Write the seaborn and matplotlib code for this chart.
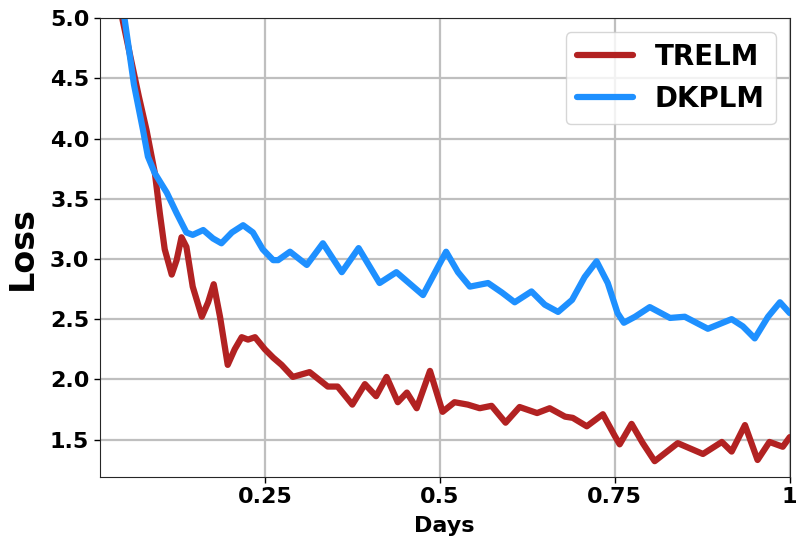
import numpy as np
import pandas as pd
import seaborn as sns
import matplotlib
matplotlib.use("Agg")
from matplotlib import pyplot as plt

# values
trelm_days = [0.020, 0.047, 0.070, 0.081, 0.093, 0.100, 0.107, 0.117, 0.124, 0.131,
              0.138, 0.147, 0.160, 0.169, 0.177, 0.186, 0.197, 0.207, 0.217, 0.226,
              0.236, 0.250, 0.262, 0.274, 0.290, 0.314, 0.340, 0.354, 0.375, 0.393,
              0.409, 0.424, 0.440, 0.453, 0.467, 0.486, 0.504, 0.521, 0.540, 0.557,
              0.574, 0.594, 0.614, 0.639, 0.657, 0.679, 0.690, 0.710, 0.733, 0.750,
              0.757, 0.774, 0.790, 0.807, 0.840, 0.876, 0.903, 0.917, 0.936, 0.954,
              0.971, 0.990, 1.000]
trelm_loss = [5.90, 4.98, 4.35, 4.07, 3.71, 3.38, 3.08, 2.87, 2.99, 3.18,
              3.10, 2.77, 2.52, 2.64, 2.79, 2.52, 2.12, 2.25, 2.35, 2.33,
              2.35, 2.25, 2.18, 2.12, 2.02, 2.06, 1.94, 1.94, 1.79, 1.96,
              1.86, 2.02, 1.81, 1.89, 1.76, 2.07, 1.73, 1.81, 1.79, 1.76,
              1.78, 1.64, 1.77, 1.72, 1.76, 1.69, 1.68, 1.61, 1.71, 1.53,
              1.46, 1.63, 1.47, 1.32, 1.47, 1.38, 1.48, 1.40, 1.62, 1.33,
              1.48, 1.44, 1.52]

dkplm_days = [0.020, 0.050, 0.063, 0.076, 0.083, 0.093, 0.110, 0.124, 0.138, 0.147,
              0.162, 0.176, 0.188, 0.203, 0.219, 0.233, 0.247, 0.262, 0.269, 0.286,
              0.310, 0.333, 0.360, 0.384, 0.414, 0.438, 0.476, 0.509, 0.526, 0.543,
              0.569, 0.589, 0.607, 0.631, 0.650, 0.669, 0.689, 0.707, 0.724, 0.740,
              0.754, 0.763, 0.779, 0.800, 0.829, 0.850, 0.883, 0.917, 0.933, 0.950,
              0.969, 0.986, 1.000]
dkplm_loss = [6.00, 4.98, 4.45, 4.07, 3.85, 3.71, 3.55, 3.38, 3.22, 3.20,
              3.24, 3.17, 3.13, 3.22, 3.28, 3.22, 3.08, 2.99, 2.99, 3.06,
              2.95, 3.13, 2.89, 3.09, 2.80, 2.89, 2.70, 3.06, 2.89, 2.77,
              2.80, 2.72, 2.64, 2.73, 2.62, 2.56, 2.66, 2.85, 2.98, 2.80,
              2.55, 2.47, 2.52, 2.60, 2.51, 2.52, 2.42, 2.50, 2.44, 2.34,
              2.52, 2.64, 2.55]

df = pd.concat([
    pd.DataFrame({'Days': trelm_days, 'Loss': trelm_loss, 'model': 'TRELM'}),
    pd.DataFrame({'Days': dkplm_days, 'Loss': dkplm_loss, 'model': 'DKPLM'}),
])

# format plot
sns.set_style("whitegrid", {'grid.color': '0.75', 'axes.edgecolor': '0.15'})
plt.rcParams['font.family'] = ['DejaVu Sans']
plt.rcParams['font.weight'] = 'bold'
plt.rcParams['text.color'] = 'black'
plt.rcParams['axes.labelcolor'] = 'black'
plt.rcParams['xtick.color'] = 'black'
plt.rcParams['ytick.color'] = 'black'

fig = plt.figure(figsize=(8.1, 5.5), dpi=100)
ax = fig.add_axes([0.123, 0.133, 0.852, 0.834])
sns.lineplot(data=df, x='Days', y='Loss', hue='model', ax=ax,
             palette={'TRELM': '#B22222', 'DKPLM': '#1E90FF'},
             linewidth=4.5, sort=True)
for line in ax.get_lines():
    line.set_solid_joinstyle('round')
    line.set_solid_capstyle('round')

ax.set_xlim(0.014, 1.0)
ax.set_ylim(1.19, 5.0)
ax.set_xticks([0.25, 0.5, 0.75, 1.0])
ax.set_xticklabels(['0.25', '0.5', '0.75', '1'])
ax.set_yticks([1.5, 2.0, 2.5, 3.0, 3.5, 4.0, 4.5, 5.0])
ax.tick_params(axis='both', labelsize=16, left=True, bottom=True, length=4, width=1)
for lab in ax.get_xticklabels() + ax.get_yticklabels():
    lab.set_fontweight('bold')
ax.grid(True, linewidth=1.6, color='0.75')
ax.set_xlabel('Days', fontsize=16, fontweight='bold', labelpad=6)
ax.set_ylabel('Loss', fontsize=24, fontweight='bold', labelpad=8)

leg = ax.legend(loc='upper right', prop={'weight': 'bold', 'size': 20},
                handlelength=2.0, frameon=True, fancybox=True)
leg.get_frame().set_edgecolor('0.8')
for h in leg.get_lines():
    h.set_linewidth(4.5)

plt.savefig('out.png', dpi=100)
plt.close()
